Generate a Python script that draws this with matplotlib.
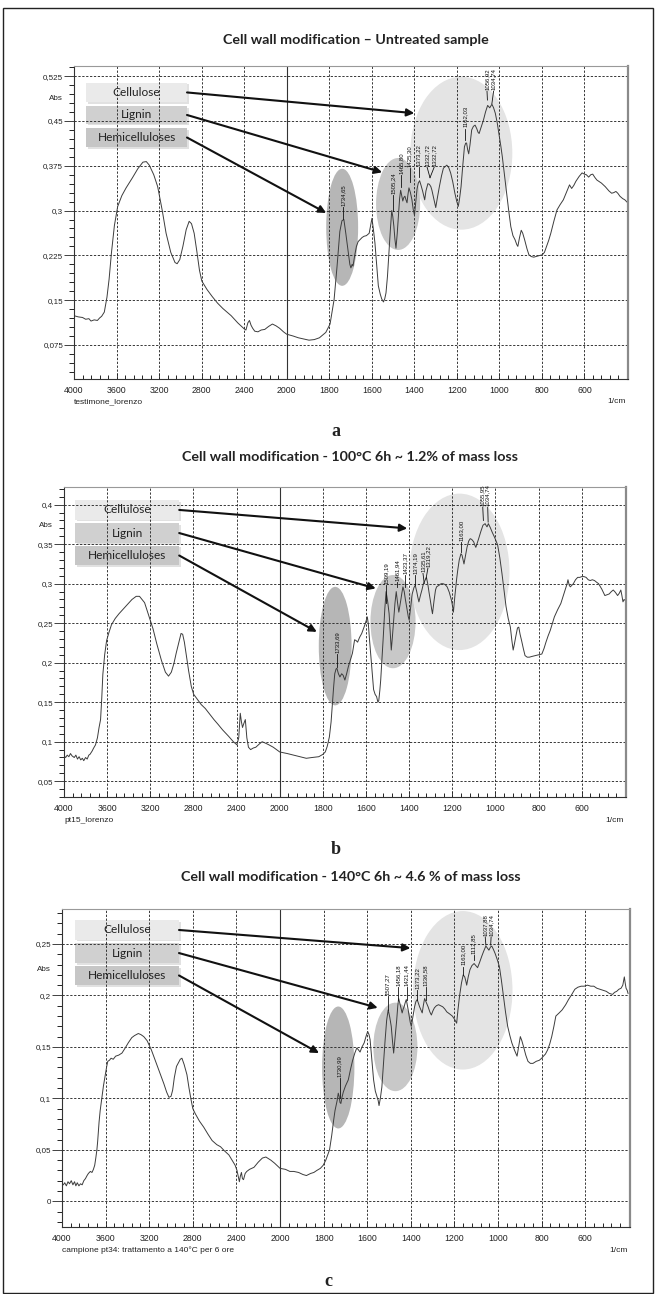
import numpy as np
import matplotlib
matplotlib.use("Agg")
import matplotlib.pyplot as plt
from matplotlib.patches import Ellipse, Rectangle
from matplotlib.ticker import FixedLocator, MultipleLocator, FuncFormatter

plt.rcParams['font.family'] = ['Liberation Sans', 'DejaVu Sans']

# ---------------- data ----------------
titles = ["Cell wall modification \u2013 Untreated sample",
          "Cell wall modification - 100\u00b0C 6h ~ 1.2% of mass loss",
          "Cell wall modification - 140\u00b0C 6h ~ 4.6 % of mass loss"]
samples = ["testimone_lorenzo", "pt15_lorenzo",
           "campione pt34: trattamento a 140\u00b0C per 6 ore"]
letters = ["a", "b", "c"]
components = ["Cellulose", "Lignin", "Hemicelluloses"]

# (a) untreated
wn_a = [4000, 3960, 3920, 3890, 3860, 3840, 3810, 3780, 3760, 3740, 3715, 3690, 3670, 3648, 3620,
        3589, 3550, 3510, 3450, 3400, 3352, 3320, 3292, 3250, 3213, 3170, 3134, 3090, 3050, 3030,
        3005, 2976, 2945, 2917, 2895, 2870, 2845, 2820, 2798, 2750, 2700, 2650, 2600, 2522, 2460,
        2400, 2383, 2365, 2350, 2335, 2320, 2300, 2270, 2240, 2206, 2170, 2134, 2100, 2067, 2030,
        2000, 1970, 1945, 1920, 1895, 1870, 1846, 1816, 1796, 1777, 1763, 1750, 1740, 1731, 1722,
        1712, 1703, 1698, 1692, 1688, 1680, 1672, 1664, 1656, 1645, 1636, 1625, 1612, 1605, 1599,
        1592, 1585, 1577, 1569, 1560, 1553, 1545, 1539, 1533, 1526, 1520, 1512, 1506, 1501, 1496,
        1491, 1486, 1480, 1474, 1469, 1464, 1459, 1454, 1449, 1444, 1439, 1434, 1430, 1425, 1418,
        1411, 1405, 1399, 1393, 1387, 1381, 1375, 1368, 1361, 1355, 1351, 1345, 1336, 1329, 1322,
        1317, 1312, 1305, 1299, 1292, 1282, 1272, 1263, 1247, 1238, 1229, 1219, 1209, 1200, 1193,
        1187, 1180, 1172, 1164, 1158, 1154, 1149, 1144, 1138, 1130, 1122, 1114, 1106, 1100, 1095,
        1088, 1075, 1065, 1055, 1050, 1045, 1035, 1027, 1019, 1010, 1000, 993, 986, 976, 966,
        956, 946, 936, 926, 918, 913, 905, 897, 890, 881, 870, 861, 850, 838, 818,
        798, 788, 778, 768, 758, 743, 729, 714, 699, 685, 670, 660, 650, 640, 625,
        611, 600, 591, 580, 570, 561, 550, 541, 520, 502, 485, 472, 462, 452, 443,
        433, 420, 410, 399]
abs_a = [0.124, 0.122, 0.121, 0.118, 0.119, 0.115, 0.117, 0.116, 0.120, 0.123, 0.130, 0.155, 0.185, 0.229, 0.275,
         0.307, 0.325, 0.338, 0.355, 0.370, 0.381, 0.382, 0.376, 0.360, 0.340, 0.300, 0.262, 0.230, 0.213, 0.211,
         0.218, 0.240, 0.268, 0.282, 0.278, 0.262, 0.232, 0.200, 0.182, 0.168, 0.156, 0.145, 0.136, 0.124, 0.112,
         0.102, 0.100, 0.112, 0.116, 0.108, 0.103, 0.098, 0.097, 0.100, 0.101, 0.106, 0.110, 0.107, 0.103, 0.097,
         0.093, 0.090, 0.087, 0.085, 0.083, 0.084, 0.087, 0.096, 0.110, 0.151, 0.207, 0.265, 0.283, 0.285, 0.262,
         0.235, 0.210, 0.204, 0.210, 0.207, 0.225, 0.240, 0.248, 0.251, 0.255, 0.257, 0.258, 0.262, 0.275, 0.287,
         0.268, 0.246, 0.210, 0.174, 0.160, 0.152, 0.147, 0.152, 0.162, 0.190, 0.224, 0.270, 0.300, 0.290, 0.274,
         0.252, 0.237, 0.262, 0.295, 0.320, 0.334, 0.325, 0.316, 0.322, 0.324, 0.318, 0.313, 0.326, 0.338, 0.330,
         0.318, 0.302, 0.292, 0.315, 0.336, 0.346, 0.350, 0.342, 0.333, 0.324, 0.318, 0.333, 0.345, 0.344, 0.340,
         0.334, 0.326, 0.314, 0.305, 0.320, 0.340, 0.358, 0.371, 0.376, 0.372, 0.363, 0.348, 0.329, 0.315, 0.307,
         0.320, 0.340, 0.375, 0.407, 0.413, 0.413, 0.402, 0.395, 0.410, 0.435, 0.441, 0.443, 0.437, 0.431, 0.429,
         0.437, 0.451, 0.465, 0.476, 0.474, 0.472, 0.478, 0.472, 0.463, 0.447, 0.424, 0.408, 0.390, 0.360, 0.329,
         0.300, 0.273, 0.258, 0.251, 0.243, 0.240, 0.255, 0.267, 0.262, 0.251, 0.236, 0.226, 0.223, 0.222, 0.224,
         0.226, 0.230, 0.240, 0.250, 0.262, 0.283, 0.301, 0.310, 0.318, 0.330, 0.343, 0.337, 0.342, 0.349, 0.357,
         0.363, 0.361, 0.360, 0.356, 0.360, 0.361, 0.355, 0.351, 0.346, 0.340, 0.333, 0.329, 0.330, 0.332, 0.329,
         0.324, 0.320, 0.318, 0.314]

# (b) 100 C 6h
wn_b = [4000, 3985, 3970, 3955, 3940, 3925, 3905, 3890, 3875, 3860, 3845, 3830, 3817, 3800, 3785,
        3770, 3759, 3740, 3725, 3708, 3690, 3675, 3661, 3650, 3640, 3630, 3623, 3605, 3584, 3560,
        3525, 3490, 3450, 3410, 3370, 3331, 3300, 3270, 3253, 3220, 3175, 3140, 3097, 3060, 3031,
        3005, 2981, 2960, 2942, 2925, 2915, 2900, 2884, 2865, 2845, 2820, 2798, 2760, 2728, 2690,
        2650, 2610, 2572, 2530, 2475, 2430, 2397, 2380, 2366, 2355, 2345, 2333, 2319, 2305, 2290,
        2270, 2245, 2222, 2190, 2163, 2130, 2100, 2060, 2030, 2000, 1965, 1936, 1905, 1877, 1850,
        1819, 1800, 1789, 1780, 1770, 1762, 1756, 1750, 1745, 1739, 1735, 1728, 1721, 1713, 1706,
        1698, 1690, 1682, 1672, 1663, 1653, 1646, 1639, 1630, 1620, 1612, 1604, 1594, 1589, 1585,
        1575, 1565, 1558, 1551, 1545, 1541, 1536, 1532, 1526, 1520, 1513, 1507, 1500, 1493, 1488,
        1483, 1478, 1472, 1466, 1460, 1454, 1448, 1443, 1439, 1434, 1429, 1423, 1417, 1410, 1404,
        1400, 1393, 1386, 1378, 1372, 1365, 1360, 1355, 1348, 1341, 1334, 1327, 1320, 1314, 1308,
        1302, 1296, 1292, 1285, 1278, 1273, 1262, 1252, 1243, 1234, 1224, 1214, 1204, 1198, 1195,
        1188, 1180, 1175, 1168, 1160, 1155, 1150, 1146, 1140, 1132, 1124, 1117, 1110, 1101, 1096,
        1091, 1085, 1078, 1068, 1058, 1048, 1042, 1039, 1033, 1024, 1015, 1003, 990, 980, 970,
        960, 951, 941, 931, 924, 918, 912, 906, 898, 892, 886, 879, 871, 863, 853,
        843, 830, 814, 800, 785, 775, 766, 756, 746, 736, 727, 712, 697, 682, 668,
        664, 658, 653, 646, 639, 629, 619, 609, 600, 590, 580, 570, 561, 551, 541,
        532, 522, 507, 493, 483, 473, 463, 454, 444, 434, 426, 419, 414, 409, 404,
        399]
abs_b = [0.082, 0.080, 0.083, 0.081, 0.085, 0.082, 0.080, 0.083, 0.078, 0.081, 0.077, 0.079, 0.076, 0.080, 0.078,
         0.083, 0.084, 0.088, 0.092, 0.096, 0.105, 0.118, 0.128, 0.155, 0.185, 0.200, 0.210, 0.228, 0.238, 0.248,
         0.256, 0.262, 0.268, 0.274, 0.280, 0.284, 0.284, 0.279, 0.276, 0.262, 0.243, 0.224, 0.203, 0.188, 0.183,
         0.188, 0.199, 0.212, 0.222, 0.232, 0.237, 0.236, 0.226, 0.208, 0.190, 0.170, 0.160, 0.153, 0.147, 0.142,
         0.135, 0.128, 0.122, 0.115, 0.107, 0.100, 0.096, 0.105, 0.136, 0.125, 0.118, 0.123, 0.128, 0.105, 0.093,
         0.090, 0.092, 0.093, 0.097, 0.100, 0.098, 0.096, 0.093, 0.090, 0.087, 0.085, 0.083, 0.081, 0.079, 0.080,
         0.081, 0.084, 0.087, 0.094, 0.106, 0.125, 0.148, 0.170, 0.186, 0.192, 0.193, 0.186, 0.182, 0.186, 0.184,
         0.178, 0.186, 0.195, 0.204, 0.212, 0.229, 0.228, 0.226, 0.232, 0.237, 0.243, 0.249, 0.258, 0.248, 0.233,
         0.200, 0.166, 0.160, 0.157, 0.150, 0.152, 0.165, 0.178, 0.205, 0.233, 0.268, 0.290, 0.278, 0.262, 0.240,
         0.216, 0.232, 0.254, 0.275, 0.290, 0.276, 0.264, 0.272, 0.279, 0.288, 0.296, 0.290, 0.279, 0.268, 0.258,
         0.254, 0.270, 0.287, 0.295, 0.298, 0.290, 0.283, 0.277, 0.285, 0.292, 0.300, 0.304, 0.308, 0.300, 0.289,
         0.279, 0.268, 0.262, 0.278, 0.292, 0.296, 0.298, 0.300, 0.300, 0.299, 0.296, 0.289, 0.279, 0.270, 0.264,
         0.285, 0.306, 0.317, 0.330, 0.338, 0.336, 0.330, 0.325, 0.334, 0.346, 0.354, 0.357, 0.356, 0.353, 0.349,
         0.346, 0.351, 0.357, 0.366, 0.374, 0.376, 0.373, 0.372, 0.376, 0.371, 0.365, 0.358, 0.349, 0.333, 0.313,
         0.291, 0.271, 0.256, 0.245, 0.228, 0.216, 0.224, 0.233, 0.244, 0.245, 0.236, 0.228, 0.218, 0.209, 0.207,
         0.207, 0.208, 0.209, 0.210, 0.211, 0.218, 0.226, 0.234, 0.241, 0.250, 0.258, 0.267, 0.275, 0.288, 0.300,
         0.305, 0.298, 0.296, 0.298, 0.300, 0.305, 0.308, 0.308, 0.309, 0.309, 0.308, 0.305, 0.304, 0.305, 0.304,
         0.302, 0.300, 0.293, 0.285, 0.286, 0.287, 0.290, 0.292, 0.289, 0.285, 0.288, 0.292, 0.285, 0.277, 0.280,
         0.279]

# (c) 140 C 6h
wn_c = [4000, 3988, 3975, 3960, 3945, 3931, 3915, 3900, 3885, 3873, 3860, 3845, 3830, 3815, 3800,
        3785, 3770, 3758, 3740, 3725, 3712, 3700, 3690, 3680, 3673, 3660, 3650, 3640, 3635, 3620,
        3604, 3590, 3580, 3565, 3550, 3530, 3508, 3480, 3450, 3420, 3392, 3360, 3335, 3300, 3277,
        3250, 3219, 3180, 3142, 3100, 3065, 3040, 3019, 3000, 2985, 2970, 2950, 2930, 2915, 2900,
        2880, 2854, 2835, 2815, 2800, 2777, 2740, 2700, 2660, 2623, 2580, 2546, 2510, 2469, 2440,
        2412, 2395, 2385, 2373, 2365, 2354, 2345, 2335, 2320, 2305, 2280, 2260, 2239, 2200, 2162,
        2130, 2100, 2085, 2050, 2020, 2000, 1975, 1955, 1937, 1915, 1895, 1879, 1860, 1845, 1831,
        1815, 1802, 1790, 1780, 1773, 1763, 1754, 1748, 1744, 1738, 1733, 1729, 1725, 1721, 1716,
        1710, 1700, 1687, 1677, 1667, 1657, 1648, 1640, 1633, 1624, 1614, 1606, 1598, 1592, 1587,
        1579, 1571, 1563, 1556, 1550, 1546, 1540, 1533, 1526, 1518, 1511, 1504, 1497, 1490, 1484,
        1479, 1472, 1465, 1460, 1456, 1448, 1440, 1435, 1431, 1426, 1421, 1414, 1408, 1403, 1398,
        1390, 1383, 1377, 1371, 1365, 1360, 1354, 1348, 1343, 1337, 1329, 1321, 1313, 1306, 1299,
        1292, 1283, 1273, 1264, 1254, 1245, 1235, 1222, 1210, 1200, 1190, 1184, 1177, 1168, 1160,
        1153, 1148, 1144, 1137, 1129, 1120, 1110, 1102, 1094, 1085, 1075, 1066, 1056, 1049, 1042,
        1035, 1029, 1022, 1014, 1004, 994, 985, 975, 966, 956, 946, 937, 925, 913, 906,
        898, 891, 883, 873, 863, 852, 840, 825, 811, 800, 792, 783, 773, 763, 754,
        744, 735, 720, 706, 690, 677, 662, 648, 634, 619, 605, 590, 575, 561, 547,
        533, 518, 504, 490, 475, 466, 456, 446, 436, 428, 421, 417, 413, 408, 404]
abs_c = [0.016, 0.016, 0.018, 0.015, 0.019, 0.017, 0.020, 0.016, 0.019, 0.015, 0.018, 0.015, 0.017, 0.016, 0.020,
         0.022, 0.025, 0.027, 0.029, 0.028, 0.031, 0.035, 0.042, 0.050, 0.058, 0.077, 0.088, 0.096, 0.100, 0.112,
         0.122, 0.131, 0.136, 0.137, 0.139, 0.138, 0.141, 0.142, 0.144, 0.149, 0.154, 0.159, 0.161, 0.163, 0.162,
         0.160, 0.156, 0.147, 0.136, 0.124, 0.114, 0.106, 0.101, 0.102, 0.108, 0.120, 0.131, 0.135, 0.138, 0.139,
         0.133, 0.123, 0.110, 0.098, 0.090, 0.085, 0.078, 0.072, 0.065, 0.059, 0.055, 0.053, 0.049, 0.045, 0.040,
         0.035, 0.030, 0.025, 0.019, 0.024, 0.028, 0.022, 0.021, 0.027, 0.029, 0.031, 0.032, 0.033, 0.038, 0.042,
         0.043, 0.041, 0.040, 0.037, 0.034, 0.032, 0.031, 0.029, 0.029, 0.028, 0.026, 0.025, 0.027, 0.028, 0.030,
         0.032, 0.035, 0.040, 0.046, 0.050, 0.064, 0.079, 0.088, 0.092, 0.098, 0.105, 0.102, 0.096, 0.095, 0.101,
         0.106, 0.112, 0.118, 0.128, 0.137, 0.144, 0.149, 0.147, 0.145, 0.150, 0.154, 0.160, 0.165, 0.162, 0.157,
         0.138, 0.118, 0.107, 0.102, 0.098, 0.093, 0.100, 0.111, 0.133, 0.157, 0.176, 0.186, 0.179, 0.170, 0.155,
         0.144, 0.160, 0.176, 0.190, 0.197, 0.190, 0.183, 0.187, 0.189, 0.193, 0.196, 0.188, 0.180, 0.174, 0.170,
         0.180, 0.189, 0.194, 0.196, 0.192, 0.189, 0.186, 0.183, 0.190, 0.197, 0.193, 0.189, 0.184, 0.181, 0.185,
         0.188, 0.190, 0.191, 0.190, 0.189, 0.187, 0.184, 0.182, 0.180, 0.177, 0.173, 0.186, 0.199, 0.212, 0.220,
         0.218, 0.214, 0.210, 0.218, 0.225, 0.229, 0.231, 0.229, 0.227, 0.232, 0.238, 0.243, 0.248, 0.246, 0.244,
         0.247, 0.248, 0.245, 0.241, 0.235, 0.228, 0.215, 0.199, 0.184, 0.170, 0.161, 0.154, 0.147, 0.141, 0.150,
         0.160, 0.156, 0.150, 0.142, 0.136, 0.134, 0.134, 0.136, 0.137, 0.139, 0.141, 0.143, 0.147, 0.153, 0.160,
         0.170, 0.180, 0.183, 0.186, 0.191, 0.196, 0.201, 0.206, 0.208, 0.209, 0.209, 0.210, 0.209, 0.209, 0.207,
         0.206, 0.205, 0.204, 0.202, 0.201, 0.203, 0.204, 0.206, 0.207, 0.210, 0.218, 0.212, 0.207, 0.205, 0.202]

# peak labels: text, label x, line end x, line top, line bottom
peaks_a = ["1734,65", "1505,24", "1465,80", "1425,30", "1373,22", "1332,72", "1332,72", "1162,03", "1056,92", "1034,74"]
peak_x_a = [1733, 1500, 1463, 1422, 1380, 1340, 1306, 1160, 1058, 1027]
peak_end_a = [1733, 1500, 1463, 1422, 1380, 1326, 1326, 1160, 1056, 1035]
peak_top_a = [0.306, 0.326, 0.359, 0.371, 0.373, 0.373, 0.373, 0.437, 0.500, 0.500]
peak_bot_a = [0.286, 0.300, 0.340, 0.348, 0.357, 0.355, 0.355, 0.418, 0.485, 0.479]

peaks_b = ["1733,69", "1509,19", "1461,94", "1423,37", "1374,19", "1335,61", "1319,22", "1163,00", "1055,95", "1034,74"]
peak_x_b = [1735, 1508, 1457, 1419, 1373, 1336, 1313, 1159, 1059, 1036]
peak_end_b = [1735, 1508, 1457, 1419, 1373, 1330, 1322, 1159, 1056, 1034]
peak_top_b = [0.211, 0.298, 0.302, 0.311, 0.311, 0.313, 0.320, 0.353, 0.397, 0.397]
peak_bot_b = [0.195, 0.276, 0.296, 0.296, 0.298, 0.300, 0.306, 0.340, 0.380, 0.378]

peaks_c = ["1730,99", "1507,27", "1456,18", "1421,44", "1373,22", "1336,58", "1163,00", "1112,85", "1037,88", "1034,74"]
peak_x_c = [1726, 1506, 1457, 1420, 1370, 1332, 1161, 1112, 1059, 1032]
peak_end_c = [1726, 1506, 1457, 1420, 1370, 1332, 1161, 1112, 1056, 1034]
peak_top_c = [0.120, 0.199, 0.208, 0.208, 0.205, 0.208, 0.228, 0.239, 0.257, 0.257]
peak_bot_c = [0.100, 0.186, 0.196, 0.196, 0.196, 0.196, 0.220, 0.234, 0.249, 0.249]

# ---------------- layout (pixels of the 659x1294 page) ----------------
W, H = 659, 1294
layout = [
    dict(rect=(74, 66, 628, 379), ylim=(0.018, 0.542), major=0.075, minor=0.015, abs_y=0.488,
         title_y=40, letter_xy=(336, 432),
         ellipses=[(1179, 0.396, 480, 0.256, '#e4e4e4'), (1476, 0.311, 207, 0.154, '#c8c8c8'),
                   (1739, 0.272, 150, 0.196, '#b6b6b6')],
         boxes=[(0.885, 0.946), (0.815, 0.872), (0.741, 0.802)], box_x=(0.022, 0.204),
         tips=[(1400, 0.463), (1551, 0.364), (1814, 0.296)]),
    dict(rect=(64, 487, 626, 797), ylim=(0.030, 0.4224), major=0.05, minor=0.01, abs_y=0.374,
         title_y=457, letter_xy=(336, 849),
         ellipses=[(1167, 0.315, 464, 0.198, '#e4e4e4'), (1475, 0.252, 209, 0.118, '#c8c8c8'),
                   (1743, 0.221, 152, 0.150, '#b6b6b6')],
         boxes=[(0.894, 0.958), (0.819, 0.884), (0.748, 0.810)], box_x=(0.0196, 0.205),
         tips=[(1409, 0.370), (1555, 0.294), (1828, 0.239)]),
    dict(rect=(62, 909, 630, 1227), ylim=(-0.025, 0.284), major=0.05, minor=0.01, abs_y=0.225,
         title_y=877, letter_xy=(328, 1282),
         ellipses=[(1162, 0.205, 456, 0.154, '#e4e4e4'), (1471, 0.150, 202, 0.086, '#c8c8c8'),
                   (1733, 0.130, 148, 0.1185, '#b6b6b6')],
         boxes=[(0.903, 0.965), (0.830, 0.893), (0.761, 0.821)], box_x=(0.023, 0.206),
         tips=[(1402, 0.246), (1552, 0.188), (1821, 0.144)]),
]
box_colors = ['#eaeaea', '#d0d0d0', '#c6c6c6']

series = [(wn_a, abs_a), (wn_b, abs_b), (wn_c, abs_c)]
peak_sets = [(peaks_a, peak_x_a, peak_end_a, peak_top_a, peak_bot_a),
             (peaks_b, peak_x_b, peak_end_b, peak_top_b, peak_bot_b),
             (peaks_c, peak_x_c, peak_end_c, peak_top_c, peak_bot_c)]


# wavenumber axis with the usual FTIR scale change at 2000 1/cm
def fwd(x):
    x = np.asarray(x, dtype=float)
    return np.where(x <= 2000, x, 2000 + (x - 2000) / 2.0)


def inv(u):
    u = np.asarray(u, dtype=float)
    return np.where(u <= 2000, u, 2000 + (u - 2000) * 2.0)


major_x = [4000, 3600, 3200, 2800, 2400, 2000, 1800, 1600, 1400, 1200, 1000, 800, 600]
minor_x = list(np.arange(4000, 2000, -80)) + list(np.arange(2000, 395, -40))

fig = plt.figure(figsize=(W / 100, H / 100), dpi=100)
fig.patches.append(Rectangle((3 / W, 1 - 1293 / H), 650 / W, 1285 / H, transform=fig.transFigure,
                             fill=False, lw=1.0, color='#222222'))

for i, lay in enumerate(layout):
    l, t, r, b = lay["rect"]
    ax = fig.add_axes([l / W, 1 - b / H, (r - l) / W, (b - t) / H])
    ax.set_xscale('function', functions=(fwd, inv))
    ax.set_xlim(4000, 395)
    ax.set_ylim(*lay["ylim"])

    ax.xaxis.set_major_locator(FixedLocator(major_x))
    ax.xaxis.set_minor_locator(FixedLocator(minor_x))
    ax.xaxis.set_major_formatter(FuncFormatter(lambda v, _: f"{v:.0f}"))
    ax.yaxis.set_major_locator(MultipleLocator(lay["major"]))
    ax.yaxis.set_minor_locator(MultipleLocator(lay["minor"]))
    ax.yaxis.set_major_formatter(FuncFormatter(lambda v, _: f"{round(v, 4):g}".replace('.', ',')))

    ax.tick_params(axis='x', which='major', direction='in', length=4, width=0.6, pad=5,
                   labelsize=6.3, colors='#222222')
    ax.tick_params(axis='x', which='minor', direction='in', length=3, width=0.6)
    ax.tick_params(axis='y', which='major', direction='out', length=7, width=0.6, pad=0.8,
                   labelsize=5.8, colors='#222222')
    ax.tick_params(axis='y', which='minor', direction='out', length=3.5, width=0.6)

    ax.set_axisbelow(True)
    ax.grid(True, which='major', ls=(0, (2.5, 1.8)), lw=0.65, color='#2a2a2a')
    ax.axvline(2000, color='#333333', lw=0.8, zorder=0.6)

    for side in ['left', 'bottom']:
        ax.spines[side].set_color('#333333')
        ax.spines[side].set_linewidth(0.8)
    ax.spines['top'].set_color('#999999')
    ax.spines['top'].set_linewidth(0.8)
    ax.spines['right'].set_color('#8a8a8a')
    ax.spines['right'].set_linewidth(1.6)

    # component regions
    for cx, cy, ew, eh, col in lay["ellipses"]:
        ax.add_patch(Ellipse((cx, cy), ew, eh, facecolor=col, edgecolor='none', zorder=0.3))

    # spectrum
    wn, ab = series[i]
    ax.plot(wn, ab, color='#3c3c3c', lw=0.7, zorder=2)

    # peak labels
    names, px, pend, ptop, pbot = peak_sets[i]
    for name, x0, x1, y0, y1 in zip(names, px, pend, ptop, pbot):
        ax.plot([x0, x1], [y0, y1], color='#111111', lw=0.6, zorder=3)
        ax.text(x0, y0 + 0.002 * (lay["ylim"][1] - lay["ylim"][0]) / 0.5, name, rotation=90,
                ha='center', va='bottom', fontsize=4.3, color='#111111', zorder=3)

    # legend boxes with arrows
    bx0, bx1 = lay["box_x"]
    for (y0, y1), name, col, tip in zip(lay["boxes"], components, box_colors, lay["tips"]):
        ax.add_patch(Rectangle((bx0 + 0.003, y0 - 0.005), bx1 - bx0, y1 - y0, transform=ax.transAxes,
                               facecolor='#aaaaaa', edgecolor='none', alpha=0.35, zorder=0.35))
        ax.add_patch(Rectangle((bx0, y0), bx1 - bx0, y1 - y0, transform=ax.transAxes,
                               facecolor=col, edgecolor='none', zorder=0.4))
        ax.text((bx0 + bx1) / 2, (y0 + y1) / 2, name, transform=ax.transAxes, ha='center',
                va='center', fontsize=8.6, color='#222222', family=['Lato', 'DejaVu Sans'], zorder=4)
        ax.annotate('', xy=tip, xycoords='data', xytext=(bx1, (y0 + y1) / 2),
                    textcoords='axes fraction',
                    arrowprops=dict(arrowstyle='-|>', color='#111111', lw=1.5,
                                    mutation_scale=11, shrinkA=0, shrinkB=0), zorder=5)

    # axis captions
    ax.annotate('Abs', xy=(0, lay["abs_y"]), xycoords=('axes fraction', 'data'),
                xytext=(-11, 0), textcoords='offset pixels', ha='right', va='center',
                fontsize=5.8, color='#222222')
    ax.annotate(samples[i], xy=(0, 0), xycoords='axes fraction', xytext=(0, -23),
                textcoords='offset pixels', ha='left', va='center', fontsize=6, color='#222222')
    ax.annotate('1/cm', xy=(1, 0), xycoords='axes fraction', xytext=(-2, -23),
                textcoords='offset pixels', ha='right', va='center', fontsize=6, color='#222222')

    fig.text(((l + r) / 2 + 5) / W, 1 - lay["title_y"] / H, titles[i], ha='center', va='center',
             fontsize=10.3, fontweight='bold', family=['Lato', 'DejaVu Sans'], color='#222222')
    lx, ly = lay["letter_xy"]
    fig.text(lx / W, 1 - ly / H, letters[i], ha='center', va='center', fontsize=13,
             fontweight='bold', family=['Liberation Serif', 'DejaVu Serif'], color='#222222')

fig.savefig('out.png', dpi=100)
